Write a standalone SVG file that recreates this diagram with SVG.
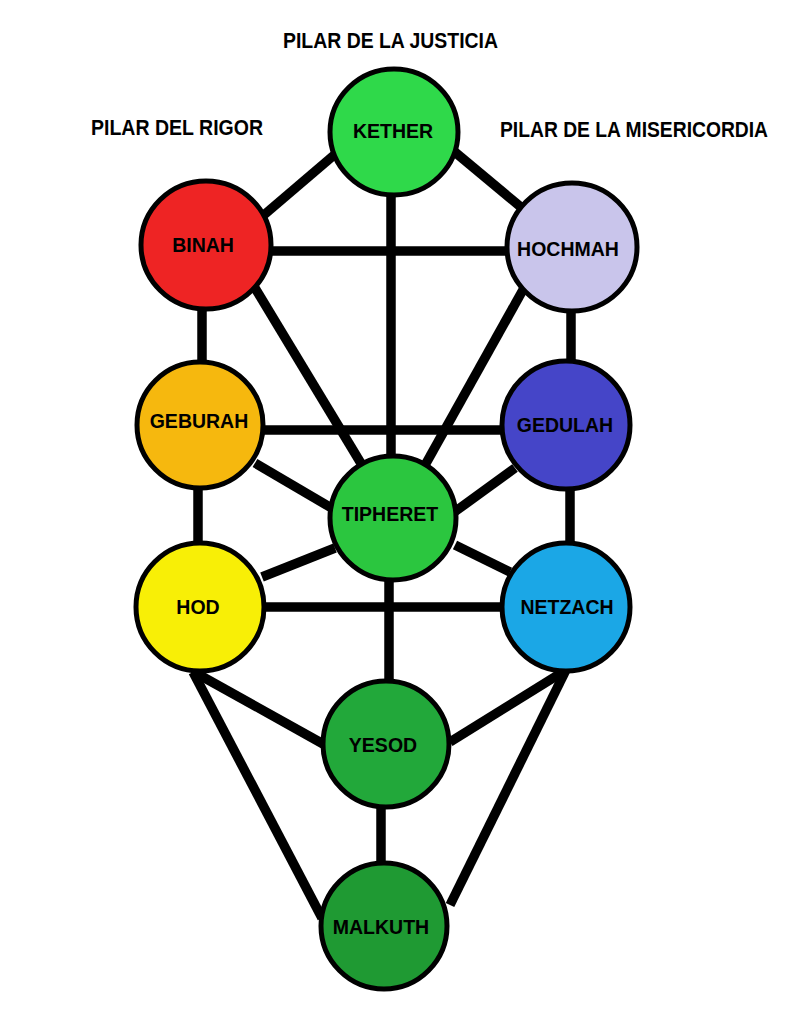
<svg xmlns="http://www.w3.org/2000/svg" width="804" height="1024" viewBox="0 0 804 1024">
<style>
.bg{fill:#ffffff}
.edge{stroke:#000;stroke-width:9.5;stroke-linecap:butt;fill:none}
.node{stroke:#000;stroke-width:5}
.lbl{font-family:"Liberation Sans",Arial,sans-serif;font-weight:bold;font-size:19.5px;fill:#000;text-anchor:middle}
.ttl{font-family:"Liberation Sans",Arial,sans-serif;font-weight:bold;font-size:22px;fill:#000}
</style>
<rect class="bg" x="0" y="0" width="804" height="1024"/>
<g id="titles">
<text class="ttl" x="283" y="48" textLength="215" lengthAdjust="spacingAndGlyphs">PILAR DE LA JUSTICIA</text>
<text class="ttl" x="91" y="135" textLength="172" lengthAdjust="spacingAndGlyphs">PILAR DEL RIGOR</text>
<text class="ttl" x="500" y="137" textLength="268" lengthAdjust="spacingAndGlyphs">PILAR DE LA MISERICORDIA</text>
</g>
<g id="connectors">
<line class="edge" x1="340" y1="150" x2="258" y2="220"/>
<line class="edge" x1="450" y1="148" x2="528" y2="213"/>
<line class="edge" x1="391" y1="190" x2="391" y2="460"/>
<line class="edge" x1="270" y1="251" x2="510" y2="251"/>
<line class="edge" x1="202" y1="305" x2="202" y2="365"/>
<line class="edge" x1="255" y1="288" x2="362" y2="465"/>
<line class="edge" x1="524" y1="288" x2="424" y2="467"/>
<line class="edge" x1="571" y1="310" x2="571" y2="363"/>
<line class="edge" x1="262" y1="430" x2="505" y2="430"/>
<line class="edge" x1="255" y1="463" x2="335" y2="510"/>
<line class="edge" x1="515" y1="468" x2="453" y2="513"/>
<line class="edge" x1="198" y1="488" x2="198" y2="545"/>
<line class="edge" x1="570" y1="488" x2="570" y2="545"/>
<line class="edge" x1="262" y1="577" x2="335" y2="548"/>
<line class="edge" x1="510" y1="572" x2="455" y2="545"/>
<line class="edge" x1="265" y1="607" x2="502" y2="607"/>
<line class="edge" x1="389" y1="580" x2="389" y2="682"/>
<line class="edge" x1="194" y1="672" x2="325" y2="745"/>
<line class="edge" x1="566" y1="670" x2="450" y2="742"/>
<line class="edge" x1="193" y1="672" x2="322" y2="918"/>
<line class="edge" x1="566" y1="670" x2="450" y2="905"/>
<line class="edge" x1="381" y1="805" x2="381" y2="865"/>
</g>
<g id="kether"><ellipse class="node" cx="394" cy="132" rx="64" ry="63" fill="#2fd94a"/><text class="lbl" x="393" y="138">KETHER</text></g>
<g id="binah"><ellipse class="node" cx="206" cy="245" rx="65" ry="64" fill="#ee2424"/><text class="lbl" x="203" y="252">BINAH</text></g>
<g id="hochmah"><ellipse class="node" cx="572" cy="247" rx="65" ry="64" fill="#c9c5eb"/><text class="lbl" x="568" y="256">HOCHMAH</text></g>
<g id="geburah"><ellipse class="node" cx="200" cy="425" rx="63" ry="63" fill="#f6b80e"/><text class="lbl" x="199" y="428">GEBURAH</text></g>
<g id="gedulah"><ellipse class="node" cx="566" cy="425" rx="64" ry="64" fill="#4545c8"/><text class="lbl" x="565" y="432">GEDULAH</text></g>
<g id="tipheret"><ellipse class="node" cx="393" cy="518" rx="63" ry="62" fill="#2bc63f"/><text class="lbl" x="390" y="521">TIPHERET</text></g>
<g id="hod"><ellipse class="node" cx="200" cy="607" rx="64" ry="64" fill="#f8ef06"/><text class="lbl" x="198" y="614">HOD</text></g>
<g id="netzach"><ellipse class="node" cx="566" cy="607" rx="64" ry="64" fill="#1ba7e6"/><text class="lbl" x="567" y="614">NETZACH</text></g>
<g id="yesod"><ellipse class="node" cx="386" cy="744" rx="63" ry="63" fill="#22a83a"/><text class="lbl" x="383" y="752">YESOD</text></g>
<g id="malkuth"><ellipse class="node" cx="384" cy="926" rx="63" ry="63" fill="#1f9a33"/><text class="lbl" x="381" y="934">MALKUTH</text></g>
</svg>
